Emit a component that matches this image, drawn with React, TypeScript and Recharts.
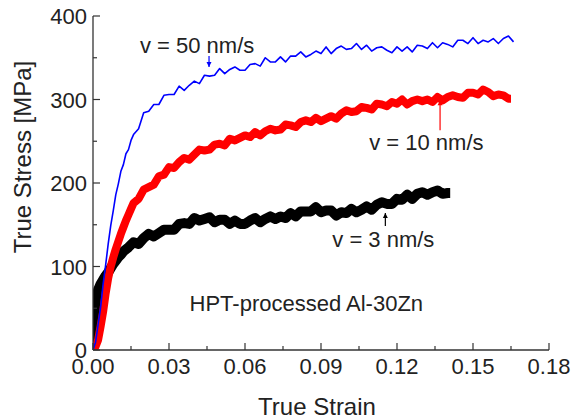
import { LineChart, Line, XAxis, YAxis, ReferenceDot } from 'recharts';

const FONT = '"Liberation Sans", Arial, sans-serif';
const AX = '#333';

// tick positions (majors get labels)
const strainTicks = [0, 0.015, 0.03, 0.045, 0.06, 0.075, 0.09, 0.105, 0.12, 0.135, 0.15, 0.165, 0.18];
const stressTicks = [0, 50, 100, 150, 200, 250, 300, 350, 400];

// v = 50 nm/s
const blueStrain = [
  0, 0.001, 0.002, 0.003, 0.004, 0.005, 0.006, 0.007, 0.008, 0.009, 0.01, 0.011, 0.012, 0.013, 0.014, 0.015,
  0.016, 0.018, 0.02, 0.022, 0.024, 0.026, 0.028, 0.03, 0.032, 0.034, 0.036, 0.038, 0.04, 0.042, 0.044, 0.046,
  0.048, 0.05, 0.052, 0.054, 0.056, 0.058, 0.06, 0.062, 0.064, 0.066, 0.068, 0.07, 0.072, 0.074, 0.076, 0.078,
  0.08, 0.082, 0.084, 0.086, 0.088, 0.09, 0.092, 0.094, 0.096, 0.098, 0.1, 0.102, 0.104, 0.106, 0.108, 0.11,
  0.112, 0.114, 0.116, 0.118, 0.12, 0.122, 0.124, 0.126, 0.128, 0.13, 0.132, 0.134, 0.136, 0.138, 0.14, 0.142,
  0.144, 0.146, 0.148, 0.15, 0.152, 0.154, 0.156, 0.158, 0.16, 0.162, 0.164, 0.166,
];
const blueStress = [
  0, 9, 30, 51, 79, 102, 127, 149, 167, 186, 199, 214, 222, 235, 240, 251,
  258, 265, 284, 286, 294, 294, 305, 306, 306, 316, 311, 317, 322, 319, 329, 328,
  329, 337, 331, 336, 339, 335, 335, 342, 343, 340, 350, 345, 345, 351, 345, 352,
  352, 357, 351, 354, 358, 355, 363, 355, 361, 364, 360, 361, 367, 360, 365, 358,
  362, 363, 359, 356, 363, 358, 363, 357, 365, 364, 361, 368, 362, 368, 366, 363,
  371, 371, 367, 374, 367, 371, 369, 373, 367, 373, 376, 369,
];

// v = 10 nm/s
const redStrain = [
  0, 0.001, 0.002, 0.003, 0.004, 0.005, 0.006, 0.007, 0.008, 0.009, 0.01, 0.011, 0.012, 0.013, 0.014, 0.015,
  0.016, 0.018, 0.02, 0.022, 0.024, 0.026, 0.028, 0.03, 0.032, 0.034, 0.036, 0.038, 0.04, 0.042, 0.044, 0.046,
  0.048, 0.05, 0.052, 0.054, 0.056, 0.058, 0.06, 0.062, 0.064, 0.066, 0.068, 0.07, 0.072, 0.074, 0.076, 0.078,
  0.08, 0.082, 0.084, 0.086, 0.088, 0.09, 0.092, 0.094, 0.096, 0.098, 0.1, 0.102, 0.104, 0.106, 0.108, 0.11,
  0.112, 0.114, 0.116, 0.118, 0.12, 0.122, 0.124, 0.126, 0.128, 0.13, 0.132, 0.134, 0.136, 0.138, 0.14, 0.142,
  0.144, 0.146, 0.148, 0.15, 0.152, 0.154, 0.156, 0.158, 0.16, 0.162, 0.164, 0.165,
];
const redStress = [
  0, 4, 12, 28, 46, 68, 86, 100, 111, 121, 130, 139, 147, 155, 162, 169,
  176, 181, 192, 195, 198, 208, 210, 219, 218, 225, 230, 228, 234, 240, 239, 240,
  246, 247, 245, 253, 251, 254, 257, 255, 261, 257, 262, 265, 263, 264, 270, 269,
  267, 273, 275, 273, 278, 274, 277, 280, 277, 283, 287, 285, 286, 291, 290, 288,
  295, 294, 292, 297, 295, 300, 294, 298, 300, 298, 300, 297, 303, 299, 303, 305,
  303, 302, 308, 308, 306, 312, 309, 304, 306, 305, 301, 301,
];

// v = 3 nm/s
const blackStrain = [
  0, 0.0003, 0.0005, 0.0008, 0.001, 0.0015, 0.002, 0.003, 0.004, 0.005, 0.006, 0.007, 0.008, 0.009, 0.01, 0.011,
  0.012, 0.014, 0.016, 0.018, 0.02, 0.022, 0.024, 0.026, 0.028, 0.03, 0.032, 0.034, 0.036, 0.038, 0.04, 0.042,
  0.044, 0.046, 0.048, 0.05, 0.052, 0.054, 0.056, 0.058, 0.06, 0.062, 0.064, 0.066, 0.068, 0.07, 0.072, 0.074,
  0.076, 0.078, 0.08, 0.082, 0.084, 0.086, 0.088, 0.09, 0.092, 0.094, 0.096, 0.098, 0.1, 0.102, 0.104, 0.106,
  0.108, 0.11, 0.112, 0.114, 0.116, 0.118, 0.12, 0.122, 0.124, 0.126, 0.128, 0.13, 0.132, 0.134, 0.136, 0.138,
  0.14, 0.141,
];
const blackStress = [
  0, 22, 44, 38, 60, 58, 72, 79, 84, 89, 93, 98, 103, 107, 111, 114,
  118, 123, 129, 127, 134, 139, 136, 140, 144, 144, 144, 151, 152, 151, 158, 155,
  157, 159, 153, 156, 156, 151, 155, 151, 151, 155, 158, 153, 157, 160, 157, 160,
  158, 164, 160, 166, 166, 166, 171, 165, 167, 167, 161, 165, 164, 169, 165, 168,
  172, 168, 174, 177, 175, 175, 181, 180, 186, 181, 187, 189, 186, 189, 191, 187,
  188, 188,
];

const toPoints = (xs: number[], ys: number[]) => xs.map((x, i) => ({ x, y: ys[i] }));

const blueData = toPoints(blueStrain, blueStress);
const redData = toPoints(redStrain, redStress);
const blackData = toPoints(blackStrain, blackStress);

const isMajorX = (v: number) => Math.round(v * 1000) % 30 === 0;
const isMajorY = (v: number) => v % 100 === 0;

const BottomTick = ({ x, y, payload }: any) => {
  const major = isMajorX(payload.value);
  return (
    <g>
      <line x1={x} y1={y} x2={x} y2={y - (major ? 7 : 4)} stroke={AX} strokeWidth={1.2} />
      {major && (
        <text x={x} y={y + 24} textAnchor="middle" fontSize={22} fill="#222" fontFamily={FONT}>
          {payload.value.toFixed(2)}
        </text>
      )}
    </g>
  );
};

const TopTick = ({ x, y, payload }: any) => {
  const major = isMajorX(payload.value);
  return <line x1={x} y1={y} x2={x} y2={y + (major ? 7 : 4)} stroke={AX} strokeWidth={1.2} />;
};

const LeftTick = ({ x, y, payload }: any) => {
  const major = isMajorY(payload.value);
  return (
    <g>
      <line x1={x} y1={y} x2={x + (major ? 7 : 4)} y2={y} stroke={AX} strokeWidth={1.2} />
      {major && (
        <text x={x - 6} y={y + 8} textAnchor="end" fontSize={22} fill="#222" fontFamily={FONT}>
          {payload.value}
        </text>
      )}
    </g>
  );
};

const RightTick = ({ x, y, payload }: any) => {
  const major = isMajorY(payload.value);
  return <line x1={x} y1={y} x2={x - (major ? 7 : 4)} y2={y} stroke={AX} strokeWidth={1.2} />;
};

// small arrow, tip sits on the data point
const arrow = (color: string, up: boolean, len: number) => (p: any) => {
  const { cx, cy } = p;
  const s = up ? 1 : -1;
  return (
    <g>
      <line x1={cx} y1={cy} x2={cx} y2={cy + s * len} stroke={color} strokeWidth={1.2} />
      <path d={`M${cx},${cy} L${cx - 2.5},${cy + s * 5} L${cx + 2.5},${cy + s * 5} Z`} fill={color} />
    </g>
  );
};

const note = (txt: string) => (p: any) => (
  <text x={p.cx} y={p.cy} textAnchor="middle" dominantBaseline="central" fontSize={22} fill="#222" fontFamily={FONT}>
    {txt}
  </text>
);

export default function App() {
  return (
    <div style={{ position: 'absolute', left: 0, top: 0, width: 571, height: 420, background: '#fff' }}>
      <LineChart width={571} height={420} margin={{ top: 16, right: 22, bottom: 0, left: 0 }}>
        <XAxis
          xAxisId={0}
          dataKey="x"
          type="number"
          domain={[0, 0.18]}
          ticks={strainTicks}
          interval={0}
          height={70}
          tickSize={0}
          tickMargin={0}
          tickLine={false}
          tick={<BottomTick />}
          axisLine={{ stroke: AX, strokeWidth: 1.3 }}
          allowDataOverflow
        />
        <XAxis
          xAxisId="top"
          orientation="top"
          dataKey="x"
          type="number"
          domain={[0, 0.18]}
          ticks={strainTicks}
          interval={0}
          height={0}
          tickSize={0}
          tickMargin={0}
          tickLine={false}
          tick={<TopTick />}
          axisLine={{ stroke: AX, strokeWidth: 1.3 }}
          allowDataOverflow
        />
        <YAxis
          yAxisId={0}
          type="number"
          domain={[0, 400]}
          ticks={stressTicks}
          interval={0}
          width={93}
          tickSize={0}
          tickMargin={0}
          tickLine={false}
          tick={<LeftTick />}
          axisLine={{ stroke: AX, strokeWidth: 1.3 }}
          allowDataOverflow
        />
        <YAxis
          yAxisId="right"
          orientation="right"
          type="number"
          domain={[0, 400]}
          ticks={stressTicks}
          interval={0}
          width={0}
          tickSize={0}
          tickMargin={0}
          tickLine={false}
          tick={<RightTick />}
          axisLine={{ stroke: AX, strokeWidth: 1.3 }}
          allowDataOverflow
        />

        <Line data={blackData} dataKey="y" type="linear" stroke="#000" strokeWidth={10} strokeLinejoin="round" dot={false} isAnimationActive={false} />
        <Line data={redData} dataKey="y" type="linear" stroke="#ff0000" strokeWidth={8} strokeLinejoin="round" dot={false} isAnimationActive={false} />
        <Line data={blueData} dataKey="y" type="linear" stroke="#0000ff" strokeWidth={1.6} strokeLinejoin="round" dot={false} isAnimationActive={false} />

        <ReferenceDot x={0.0458} y={339} r={0} shape={arrow('#0000ff', false, 11)} />
        <ReferenceDot x={0.137} y={299} r={0} shape={arrow('#ff0000', true, 30)} />
        <ReferenceDot x={0.1154} y={164} r={0} shape={arrow('#000', true, 13)} />

        <ReferenceDot x={0.0411} y={365} r={0} shape={note('v = 50 nm/s')} />
        <ReferenceDot x={0.1316} y={248} r={0} shape={note('v = 10 nm/s')} />
        <ReferenceDot x={0.1146} y={132} r={0} shape={note('v = 3 nm/s')} />
        <ReferenceDot x={0.0842} y={56} r={0} shape={note('HPT-processed Al-30Zn')} />

        <text x={317} y={415} textAnchor="middle" fontSize={24} fill="#222" fontFamily={FONT}>
          True Strain
        </text>
        <text
          x={31}
          y={157}
          transform="rotate(-90 31 157)"
          textAnchor="middle"
          fontSize={24}
          fill="#222"
          fontFamily={FONT}
        >
          True Stress [MPa]
        </text>
      </LineChart>
    </div>
  );
}
